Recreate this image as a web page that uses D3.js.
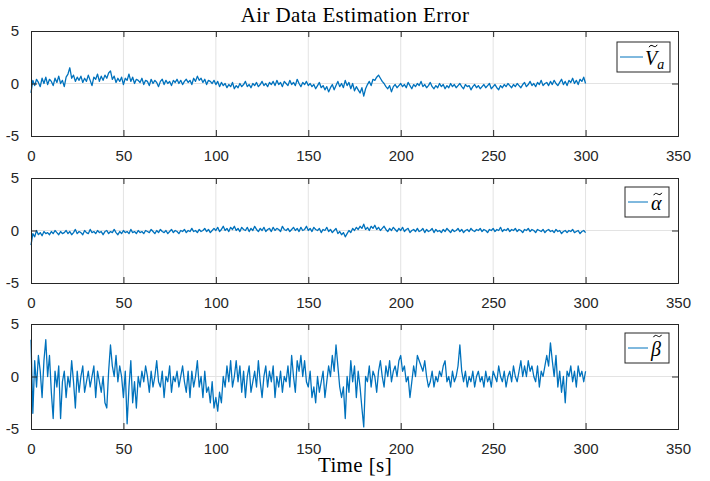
<!DOCTYPE html>
<html>
<head>
<meta charset="utf-8">
<title>Air Data Estimation Error</title>
<script src="https://d3js.org/d3.v7.min.js"></script>
<style>
  body { margin: 0; background: #fff; }
  .tick text { font-family: "Liberation Sans", Arial, sans-serif; font-size: 15px; fill: #262626; }
</style>
</head>
<body>
<div id="chart"></div>
<script>
// estimation errors, one sample per second, t = 0..300 s
var vaErr = [
  -0.9,0.3,-0.2,0.4,0.1,-0.3,0.5,0.0,0.6,-0.1,
  0.4,0.2,-0.2,0.5,0.1,0.7,0.0,0.3,-0.3,0.6,
  0.9,1.5,0.5,0.8,0.2,0.6,0.3,0.7,0.1,0.5,
  0.2,0.8,0.3,-0.2,0.6,0.4,0.9,0.2,0.7,0.3,
  0.8,0.5,1.0,1.2,0.4,0.7,0.1,0.5,0.2,0.6,
  -0.1,0.5,0.3,0.9,0.2,0.6,0.0,0.4,0.3,0.1,
  0.5,-0.1,0.3,0.2,-0.2,0.4,0.0,0.3,0.1,-0.3,
  0.2,0.4,-0.1,0.3,0.0,0.2,-0.2,0.3,0.1,0.4,
  0.0,0.3,-0.1,0.2,0.4,0.1,0.3,-0.1,0.5,0.2,
  0.7,0.3,0.5,0.1,0.4,-0.1,0.3,0.2,0.0,0.3,
  -0.1,0.2,-0.3,0.1,-0.2,0.0,-0.4,-0.1,-0.3,0.1,
  -0.5,-0.2,-0.4,0.0,-0.3,-0.1,0.2,-0.3,-0.1,-0.4,
  0.0,-0.2,0.1,-0.3,-0.1,0.2,-0.2,0.0,-0.3,0.1,
  -0.1,0.2,-0.2,0.3,-0.1,0.1,-0.3,0.2,0.0,-0.2,
  0.3,-0.1,0.1,-0.2,0.4,0.0,-0.3,0.1,-0.1,0.2,
  -0.2,0.0,-0.3,-0.1,-0.5,-0.2,0.1,-0.4,-0.2,-0.6,
  -0.3,-0.8,-0.4,-0.1,-0.6,-0.2,0.2,-0.3,0.0,-0.4,
  0.3,-0.2,0.1,-0.5,0.0,-0.7,-0.3,-0.6,-0.9,-0.4,
  -1.2,-0.5,-0.1,0.2,-0.2,0.4,0.3,0.6,0.8,0.5,
  0.2,0.0,-0.3,-0.5,-0.2,-0.8,-0.3,-0.1,-0.4,-0.2,
  0.0,-0.3,-0.1,-0.4,0.1,-0.2,-0.5,-0.1,-0.3,0.0,
  -0.2,0.2,-0.3,-0.1,-0.4,-0.2,0.1,-0.3,-0.5,-0.2,
  -0.4,0.0,-0.3,-0.1,-0.5,-0.2,-0.4,0.0,-0.3,-0.1,
  -0.4,-0.2,0.0,-0.3,-0.5,-0.1,-0.3,-0.2,-0.6,-0.3,
  -0.1,-0.4,-0.2,-0.5,-0.3,-0.1,-0.4,-0.2,0.0,-0.5,
  -0.3,-0.1,-0.4,-0.6,-0.2,-0.4,-0.1,-0.3,0.0,-0.2,
  -0.4,-0.1,-0.3,0.0,-0.2,-0.4,-0.1,0.1,-0.3,-0.1,
  0.2,-0.2,0.0,-0.3,0.1,-0.1,0.3,-0.2,0.0,0.1,
  -0.2,0.2,-0.1,0.3,0.0,-0.2,0.1,0.4,-0.1,0.2,
  -0.2,0.3,0.1,0.5,0.0,0.3,-0.1,0.4,0.2,0.6,
  0.0
];
var alphaErr = [
  -1.4,-0.3,-0.6,0.0,-0.4,-0.2,-0.5,-0.1,-0.3,-0.2,
  -0.4,-0.1,-0.3,0.0,-0.2,-0.4,-0.1,-0.3,-0.2,0.0,
  -0.3,-0.1,-0.4,-0.2,0.1,-0.3,-0.1,-0.2,-0.4,0.0,
  -0.2,-0.3,0.1,-0.2,-0.1,-0.3,0.0,-0.2,-0.1,-0.4,
  -0.1,0.0,-0.3,-0.1,-0.2,0.1,-0.2,-0.4,-0.1,-0.3,
  0.0,-0.2,-0.1,-0.3,0.1,-0.2,-0.1,-0.3,0.0,-0.2,
  -0.1,-0.3,0.0,-0.1,-0.2,0.1,-0.1,-0.3,0.0,-0.2,
  0.1,-0.1,-0.2,0.0,-0.3,-0.1,0.1,-0.2,0.0,-0.1,
  -0.3,0.0,-0.1,0.1,-0.2,0.0,-0.1,0.2,-0.1,0.0,
  -0.2,0.1,-0.1,0.0,0.2,-0.1,0.1,-0.2,0.0,0.2,
  0.0,0.3,-0.1,0.1,0.4,0.0,0.2,-0.1,0.3,0.1,
  0.4,0.0,0.2,-0.1,0.3,0.1,0.0,0.3,-0.1,0.2,
  0.0,0.4,0.1,-0.1,0.2,0.0,0.3,-0.1,0.1,0.2,
  -0.1,0.3,0.0,0.2,0.1,-0.1,0.4,0.1,0.0,0.2,
  -0.1,0.1,0.3,0.0,0.2,-0.1,0.3,0.0,0.1,0.4,
  0.0,0.2,-0.1,0.3,0.1,0.0,0.2,-0.2,0.1,0.0,
  0.3,-0.1,0.1,-0.2,0.0,0.2,-0.3,-0.1,-0.4,-0.2,
  -0.6,-0.3,0.0,-0.2,0.2,0.0,0.3,0.1,0.4,0.2,
  0.6,0.1,0.3,0.0,0.4,0.2,0.5,0.1,0.3,0.0,
  0.2,0.4,0.1,-0.1,0.2,0.0,0.3,0.1,-0.1,0.2,
  0.0,0.3,-0.1,0.1,0.2,-0.2,0.0,0.1,-0.1,0.2,
  -0.1,0.0,0.2,-0.2,0.1,-0.1,0.0,0.2,-0.2,0.1,
  -0.1,0.0,-0.2,0.1,-0.1,0.2,0.0,-0.2,0.1,-0.1,
  0.0,0.2,-0.1,0.1,-0.2,0.0,0.1,-0.1,0.2,0.0,
  -0.1,0.1,0.0,0.2,-0.1,0.1,0.0,-0.2,0.1,0.0,
  0.2,-0.1,0.1,0.0,0.3,-0.1,0.1,0.0,0.2,-0.1,
  0.1,0.0,0.2,-0.1,0.1,0.0,-0.2,0.1,0.0,0.2,
  -0.1,0.1,0.0,-0.2,0.1,0.0,-0.1,0.1,-0.2,0.0,
  0.1,-0.1,0.0,-0.2,0.1,-0.1,0.0,-0.3,-0.1,0.0,
  -0.2,0.0,-0.1,0.1,-0.2,-0.1,0.0,-0.3,-0.1,0.0,
  -0.2
];
var betaErr = [
  3.5,-3.5,1.5,-1.0,2.0,0.5,-2.0,1.5,3.5,0.0,
  2.0,-1.5,-4.0,0.5,-1.0,1.0,-4.0,-0.5,0.5,-2.0,
  0.0,-1.0,1.5,-0.5,-3.0,0.5,-1.5,0.0,1.0,-1.5,
  -0.5,0.5,-1.0,0.0,1.0,-2.0,0.5,-0.5,-1.5,0.0,
  -2.5,-3.0,0.5,3.0,1.0,0.0,2.0,-0.5,1.0,0.0,
  -2.0,0.5,-4.5,-1.0,1.5,-2.5,-0.5,-3.0,0.0,-1.0,
  0.5,-0.5,1.0,0.0,-1.5,0.5,-1.0,0.0,1.5,-0.5,
  -1.0,0.5,-2.0,0.0,-0.5,1.0,-1.5,0.0,-0.5,0.5,
  -1.0,0.0,1.0,-0.5,-1.5,0.5,-2.0,0.5,-1.0,0.0,
  1.5,-1.0,0.0,-2.0,0.5,-1.5,-1.0,-2.5,-0.5,-3.0,
  -2.0,-3.3,-1.5,-2.5,0.0,-1.0,1.0,-0.5,1.5,-1.0,
  0.0,1.5,-0.5,1.0,-1.5,0.5,-2.0,0.0,1.0,-1.5,
  -0.5,0.5,-1.0,1.5,-0.5,-2.0,0.0,1.0,-1.0,0.5,
  -0.5,1.0,-2.0,0.0,-1.0,0.5,-1.5,0.0,-0.5,1.0,
  -1.0,2.0,0.0,-1.5,1.5,0.5,2.0,0.0,1.5,-0.5,
  -1.0,0.5,-2.0,-1.0,-2.5,0.0,-1.5,-0.5,0.5,-2.0,
  -0.5,1.0,0.0,2.0,0.5,3.0,1.0,-1.0,-2.0,-1.0,
  -4.0,0.0,-1.5,1.5,-0.5,1.0,-2.0,0.5,-1.0,-3.0,
  -4.8,0.0,-0.5,1.0,-1.0,0.5,0.0,-1.5,0.5,1.5,
  0.0,-1.0,1.0,0.0,1.5,-0.5,0.5,1.0,0.0,1.5,
  2.0,0.5,1.0,-0.5,0.0,-2.0,-0.5,1.0,0.0,2.0,
  1.5,1.0,0.5,1.5,0.0,-1.0,-0.5,0.5,-1.0,0.0,
  -0.5,0.5,0.0,1.0,1.5,-0.5,0.0,-1.0,0.5,-0.5,
  0.0,1.0,3.0,0.5,-0.5,0.5,-1.0,0.0,-0.5,0.5,
  -1.0,0.0,0.5,-0.5,0.0,-1.0,0.5,-0.5,0.0,-1.0,
  0.5,0.0,-0.5,1.0,0.0,-0.5,0.5,-1.0,0.0,0.5,
  -0.5,1.0,0.0,-0.5,0.5,1.5,0.0,1.0,0.0,1.5,
  0.5,1.0,0.0,-0.5,1.0,-1.0,0.5,0.0,1.0,2.0,
  1.0,3.2,1.5,0.0,2.0,-1.0,0.5,-1.5,0.0,-2.5,
  0.5,0.0,1.0,-0.5,0.5,-1.0,1.0,0.0,0.5,-0.5,
  0.5
];
var xTicks = [0, 50, 100, 150, 200, 250, 300, 350];
var yTicks = [-5, 0, 5];
var panels = [
  { data: vaErr, sym: "V", sub: "a" },
  { data: alphaErr, sym: "\u03B1", sub: null },
  { data: betaErr, sym: "\u03B2", sub: null }
];

var W = 710, H = 481;
var left = 31, right = 678;
var tops = [31, 178, 324], ph = 105;
var blue = "#0072BD", axisCol = "#262626";
var serif = "'Liberation Serif', 'DejaVu Serif', serif";

var svg = d3.select("#chart").append("svg")
  .attr("width", W).attr("height", H);

var x = d3.scaleLinear().domain([0, 350]).range([left, right]);

svg.append("text")
  .attr("x", 355).attr("y", 22)
  .attr("text-anchor", "middle")
  .style("font-family", serif)
  .style("font-size", "21px")
  .style("letter-spacing", "0.4px")
  .style("fill", "#000")
  .text("Air Data Estimation Error");

panels.forEach(function (p, k) {
  var top = tops[k];
  var y = d3.scaleLinear().domain([-5, 5]).range([top + ph, top]);
  var g = svg.append("g");

  // grid
  g.selectAll(".gx").data(xTicks.slice(1, -1)).enter().append("line")
    .attr("x1", function (d) { return x(d); }).attr("x2", function (d) { return x(d); })
    .attr("y1", top).attr("y2", top + ph)
    .attr("stroke", "#e3e3e3").attr("stroke-width", 1);
  g.append("line")
    .attr("x1", left).attr("x2", right).attr("y1", y(0)).attr("y2", y(0))
    .attr("stroke", "#e3e3e3").attr("stroke-width", 1);

  // signal
  var line = d3.line()
    .x(function (d, i) { return x(i * 300 / (p.data.length - 1)); })
    .y(function (d) { return y(d); });
  g.append("path").datum(p.data)
    .attr("d", line)
    .attr("fill", "none")
    .attr("stroke", blue)
    .attr("stroke-width", 1.3)
    .attr("stroke-linejoin", "round");

  // axes (ticks inside, box on)
  var ax = g.append("g").attr("transform", "translate(0," + (top + ph) + ")")
    .call(d3.axisBottom(x).tickValues(xTicks).tickSize(-6).tickPadding(14));
  var axTop = g.append("g").attr("transform", "translate(0," + top + ")")
    .call(d3.axisTop(x).tickValues(xTicks).tickSize(-6).tickFormat(""));
  var ay = g.append("g").attr("transform", "translate(" + left + ",0)")
    .call(d3.axisLeft(y).tickValues(yTicks).tickSize(-6).tickPadding(12)
      .tickFormat(function (d) { return String(d); }));
  var ayR = g.append("g").attr("transform", "translate(" + right + ",0)")
    .call(d3.axisRight(y).tickValues(yTicks).tickSize(-6).tickFormat(""));
  [ax, axTop, ay, ayR].forEach(function (a) {
    a.select(".domain").attr("stroke", axisCol);
    a.selectAll(".tick line").attr("stroke", axisCol);
  });

  // legend
  var lx = k === 0 ? 617 : 625, lw = k === 0 ? 53 : 44;
  var ly = top + (k === 0 ? 11 : 9);
  g.append("rect")
    .attr("x", lx).attr("y", ly).attr("width", lw).attr("height", 30)
    .attr("fill", "#fff").attr("stroke", axisCol).attr("stroke-width", 1);
  g.append("line")
    .attr("x1", lx + 3).attr("x2", lx + (k === 0 ? 26 : 23))
    .attr("y1", ly + 15).attr("y2", ly + 15)
    .attr("stroke", blue).attr("stroke-width", 1);
  var tx = lx + (k === 0 ? 28 : 26);
  var t = g.append("text")
    .attr("x", tx).attr("y", ly + 23)
    .style("font-family", serif)
    .style("font-style", "italic")
    .style("font-size", "20px")
    .style("fill", "#000");
  var symSpan = t.append("tspan").text(p.sym);
  var symW = symSpan.node().getComputedTextLength();
  if (p.sub) {
    t.append("tspan").attr("dy", 4).style("font-size", "14px").text(p.sub);
  }
  // tilde accent above the symbol
  var cx = tx + symW / 2 + (k === 0 ? 2 : 1.5);
  var cy = k === 0 ? ly + 4 : (k === 1 ? ly + 7 : ly + 3);
  g.append("path")
    .attr("transform", "translate(" + cx + "," + cy + ")")
    .attr("d", "M-4,1.2 C-3,-1 -1.5,-1 0,0 C1.5,1 3,1 4,-1.2")
    .attr("fill", "none")
    .attr("stroke", "#000")
    .attr("stroke-width", 1);
});

svg.append("text")
  .attr("x", 355).attr("y", 472)
  .attr("text-anchor", "middle")
  .style("font-family", serif)
  .style("font-size", "21px")
  .style("letter-spacing", "0.4px")
  .style("fill", "#000")
  .text("Time [s]");
</script>
</body>
</html>
